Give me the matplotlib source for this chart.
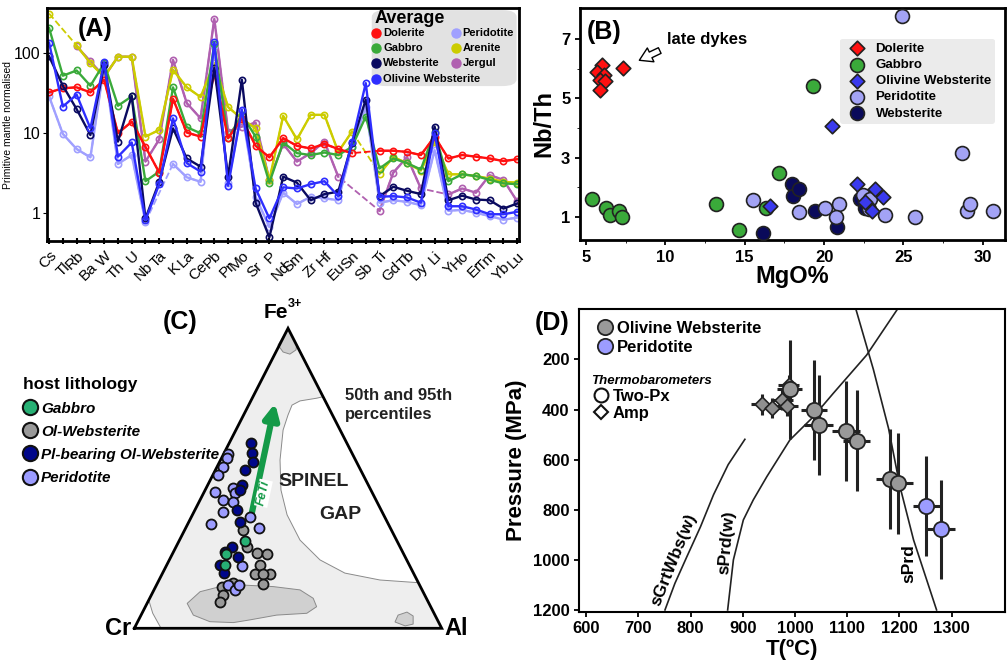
import numpy as np
import matplotlib
matplotlib.use('Agg')
import matplotlib.pyplot as plt
from matplotlib import font_manager
from matplotlib.lines import Line2D
from matplotlib.patches import Polygon, FancyBboxPatch

plt.rcParams['font.family'] = ['Liberation Sans', 'DejaVu Sans']
installed = {f.name for f in font_manager.fontManager.ttflist}
NARROW = 'Liberation Sans Narrow' if 'Liberation Sans Narrow' in installed else 'Liberation Sans'

nan = np.nan

# ---- (A) spider diagram ----
elements = ['Cs', 'Tl', 'Rb', 'Ba', 'W', 'Th', 'U', 'Nb', 'Ta', 'K', 'La', 'Ce', 'Pb', 'Pr', 'Mo',
            'Sr', 'P', 'Nd', 'Sm', 'Zr', 'Hf', 'Eu', 'Sn', 'Sb', 'Ti', 'Gd', 'Tb', 'Dy', 'Li',
            'Y', 'Ho', 'Er', 'Tm', 'Yb', 'Lu']
dolerite = [32, 36, 37, 32, 46, 9.9, 13.8, 6.7, 3.2, 26.6, 10.1, 9.0, 56, 8.6, 15, 6.9, 4.96, 8.6,
            6.9, 6.4, 7.3, 6.3, 5.6, nan, 6.0, 6.0, 5.8, 5.3, 9.0, 4.8, 5.3, 5.06, 4.8, 4.46, 4.7]
gabbro = [203, 51.6, 60, 38.7, 74, 21.8, 28.5, 2.5, 3.3, 37, 11.8, 9.9, 128, 8.6, 16.8, 9.0, 2.4,
          7.6, 5.6, 5.3, 5.7, 5.3, 6.7, 16, 3.6, 4.8, 4.2, 3.5, 10.4, 2.5, 3.05, 2.9, 2.6, 2.35, 2.3]
websterite = [90, 38.7, 19.8, 9.4, 70, 7.8, 29, 0.86, 2.46, 11.4, 4.8, 3.8, 65, 2.85, 46, 1.35, 0.50,
              2.85, 2.4, 1.45, 1.73, 1.85, 7.4, 26, 1.63, 2.13, 1.9, 1.73, 12.0, 1.45, 1.65, 1.48,
              1.45, 1.14, 1.32]
ol_websterite = [133, 21.3, 30, 11.4, 76, 5.06, 7.6, 0.82, 2.3, 15.2, 4.2, 3.3, 135, 2.2, 19.4, 2.03,
                 0.86, 2.1, 2.03, 2.3, 2.5, 1.63, 7.6, 41.7, 1.6, 1.63, 1.57, 1.35, 9.9, 1.22, 1.22,
                 1.11, 0.97, 0.97, 1.04]
peridotite = [28.5, 9.7, 6.3, 4.96, 70, 4.1, 5.3, 0.78, nan, 4.1, 2.8, 2.46, 120, 2.4, 19, 1.6, 0.67,
              1.8, 1.3, 1.6, 1.53, 1.45, 6.7, 21, 1.35, 1.45, 1.38, 1.26, 6.1, 1.07, 1.1, 1.01, 0.92,
              0.83, 0.88]
arenite = [307, nan, 123, 74, 50, 89, 89, 9.0, 10.9, 61, 37, 28, 74, 21, 15, 11.4, 2.6, 16.3, 8.3,
           16.8, 16.8, 5.8, 10.4, nan, 3.1, 5.0, 4.2, 3.4, 7.8, 3.05, 3.05, 2.9, 2.7, 2.46, 2.4]
jergul = [nan, nan, 120, 78, 50, 89, 89, 4.4, 8.3, 81, 23.5, 15.2, 264, 10.4, 12, 13.4, 2.6, 7.3, 4.4,
          5.6, 7.8, 2.85, nan, nan, 1.07, 3.2, 5.0, 2.03, nan, 1.71, 2.03, 1.8, 2.98, 2.6, 1.4]

# ---- (B) Nb/Th vs MgO ----
dol_mgo = [6.0, 5.7, 6.1, 5.9, 6.2, 5.9, 7.3]
dol_nbth = [6.12, 5.9, 5.8, 5.63, 5.6, 5.3, 6.02]
gab_mgo = [5.36, 6.24, 6.5, 7.08, 7.25, 13.2, 14.64, 16.32, 17.18, 19.33]
gab_nbth = [1.59, 1.29, 1.06, 1.20, 0.98, 1.43, 0.55, 1.29, 2.49, 5.42]
olw_mgo = [16.6, 20.48, 22.06, 23.2, 23.74, 23.0, 22.6]
olw_nbth = [1.35, 4.07, 2.10, 1.93, 1.65, 1.20, 1.5]
per_mgo = [24.94, 28.68, 15.55, 18.42, 20.06, 20.95, 20.73, 22.48, 22.9, 23.84, 25.74, 29.0, 29.2,
           30.67, 22.8]
per_nbth = [7.79, 3.14, 1.55, 1.17, 1.29, 1.43, 1.0, 1.73, 1.61, 1.05, 0.99, 1.2, 1.43, 1.2, 1.27]
web_mgo = [17.96, 18.07, 18.4, 19.43, 20.84, 16.18, 22.27, 22.6]
web_nbth = [2.10, 1.71, 1.94, 1.2, 0.64, 0.44, 1.61, 1.3]

# ---- (C) spinel ternary (Al, Fe3+ fractions; Cr = rest) ----
c_gab_al = [0.214, 0.174, 0.190]
c_gab_fe = [0.292, 0.248, 0.211]
c_olw_al = [0.191, 0.231, 0.273, 0.307, 0.303, 0.303, 0.351, 0.330, 0.346, 0.215, 0.234, 0.234, 0.247]
c_olw_fe = [0.328, 0.270, 0.250, 0.247, 0.211, 0.180, 0.180, 0.180, 0.147, 0.139, 0.111, 0.089, 0.150]
c_pl_al = [0.070, 0.092, 0.108, 0.096, 0.111, 0.113, 0.138, 0.166, 0.181, 0.168, 0.219, 0.173, 0.200]
c_pl_fe = [0.617, 0.583, 0.555, 0.528, 0.478, 0.461, 0.394, 0.355, 0.272, 0.253, 0.239, 0.211, 0.183]
c_per_al = [0.015, 0.017, 0.020, 0.018, 0.035, 0.076, 0.089, 0.103, 0.111, 0.095, 0.191, 0.076,
            0.240, 0.246, 0.234, 0.264, 0.269]
c_per_fe = [0.581, 0.567, 0.539, 0.511, 0.455, 0.428, 0.467, 0.450, 0.422, 0.389, 0.370, 0.348,
            0.333, 0.208, 0.144, 0.128, 0.144]

# ---- (D) P-T ----
olw_T = [990, 1037, 1045, 1097, 1118, 1181, 1198]
olw_P = [320, 402, 462, 485, 524, 677, 695]
olw_Terr = [24, 25, 27, 27, 26, 26, 28]
olw_Perr = [196, 200, 198, 200, 200, 200, 200]
per_T = [1251, 1279]
per_P = [785, 878]
per_Terr = [26, 27]
per_Perr = [200, 198]
amp_T = [936, 955, 976, 985, 988]
amp_P = [380, 395, 362, 386, 302]
amp_Terr = [20, 20, 20, 20, 20]
amp_Perr = [40, 40, 40, 40, 40]
sgrt_T = [751, 770, 793, 819, 844, 872, 904]
sgrt_P = [1200, 1094, 987, 868, 740, 620, 519]
sprdw_T = [871, 882, 901, 920, 946, 990, 1035, 1073, 1137, 1195]
sprdw_P = [1200, 1000, 841, 761, 668, 522, 429, 336, 183, 3]
sprd_T = [1117, 1150, 1179, 1201, 1227, 1271]
sprd_P = [3, 240, 475, 708, 921, 1200]

fig = plt.figure(figsize=(10.07, 6.63), dpi=100)

# ================= A =================
axA = fig.add_axes([0.0467, 0.6365, 0.4687, 0.3514])
x = np.arange(len(elements))
series = [('Jergul', jergul, '#b060b0'), ('Arenite', arenite, '#cccc00'),
          ('Peridotite', peridotite, '#a0a0ff'), ('Gabbro', gabbro, '#3aaa3a'),
          ('Dolerite', dolerite, '#ff1010'), ('Websterite', websterite, '#0a0a60'),
          ('Olivine Websterite', ol_websterite, '#2e2eff')]
for name, vals, col in series:
    v = np.array(vals, float)
    ok = ~np.isnan(v)
    if not ok.all():
        axA.plot(x[ok], v[ok], '--', color=col, lw=1.3)
    axA.plot(x, v, '-', color=col, lw=1.7, marker='o', ms=4.5, mfc='none', mew=1.2)
axA.set_yscale('log')
axA.set_ylim(0.45, 360)
axA.set_xlim(-0.15, 34.13)
axA.set_xticks(x)
axA.set_xticklabels(elements, rotation=45, ha='right', rotation_mode='anchor', fontsize=11)
for i, t in enumerate(axA.xaxis.get_major_ticks()):
    t.set_pad(3 if i % 2 == 0 else 11)
axA.tick_params(axis='x', direction='inout', length=5, width=1.5)
axA.set_yticks([1, 10, 100])
axA.set_yticklabels(['1', '10', '100'], fontsize=11.5)
axA.tick_params(axis='y', which='major', length=3, pad=1.5)
axA.tick_params(axis='y', which='minor', length=0)
axA.set_ylabel('Primitive mantle normalised', fontsize=7.5, labelpad=1)
for s in axA.spines.values():
    s.set_linewidth(2)
axA.text(0.066, 0.96, '(A)', transform=axA.transAxes, fontsize=18, fontweight='bold', va='top')

# legend of A, laid out by hand (the long last entry runs under the second column)
cols = {n: c for n, _, c in series}
tA = axA.transAxes
axA.add_patch(FancyBboxPatch((0.688, 0.665), 0.307, 0.326, boxstyle='round,pad=0,rounding_size=0.03',
                             transform=tA, fc='#e2e2e2', ec='none', zorder=6))
axA.text(0.694, 0.957, 'Average', transform=tA, fontsize=13, fontweight='bold', family=NARROW,
         va='center', ha='left', zorder=7)
rows_y = [0.893, 0.828, 0.764, 0.695]
leg_items = [('Dolerite', 0, 0), ('Gabbro', 0, 1), ('Websterite', 0, 2), ('Olivine Websterite', 0, 3),
             ('Peridotite', 1, 0), ('Arenite', 1, 1), ('Jergul', 1, 2)]
col_x = [0.698, 0.866]
for n, c, r in leg_items:
    axA.plot([col_x[c]], [rows_y[r]], 'o', ms=6.5, color=cols[n], transform=tA, zorder=7, clip_on=False)
    axA.text(col_x[c] + 0.014, rows_y[r], n, transform=tA, fontsize=8, fontweight='bold',
             family=NARROW, va='center', ha='left', zorder=7)

# ================= B =================
axB = fig.add_axes([0.576, 0.638, 0.422, 0.35])
axB.scatter(gab_mgo, gab_nbth, marker='o', s=100, c='#3aaa3a', edgecolors='#222', linewidths=1.2, label='Gabbro', zorder=3)
axB.scatter(web_mgo, web_nbth, marker='o', s=100, c='#0a0a5a', edgecolors='#222', linewidths=1.2, label='Websterite', zorder=3)
axB.scatter(per_mgo, per_nbth, marker='o', s=100, c='#a3a3f5', edgecolors='#222', linewidths=1.2, label='Peridotite', zorder=3)
axB.scatter(olw_mgo, olw_nbth, marker='D', s=55, c='#3a3aee', edgecolors='#222', linewidths=1.2, label='Olivine Websterite', zorder=4)
axB.scatter(dol_mgo, dol_nbth, marker='D', s=55, c='#ff1010', edgecolors='#222', linewidths=1.2, label='Dolerite', zorder=4)
axB.set_xlim(4.62, 31.4)
axB.set_ylim(0.21, 8.06)
axB.set_xticks([5, 10, 15, 20, 25, 30])
axB.set_xticks([7.5, 12.5, 17.5, 22.5, 27.5], minor=True)
axB.set_yticks([1, 3, 5, 7])
axB.set_yticks([2, 4, 6], minor=True)
axB.tick_params(labelsize=12, width=1.3)
for lab in axB.get_xticklabels() + axB.get_yticklabels():
    lab.set_fontweight('bold')
axB.set_xlabel('MgO%', fontsize=17, fontweight='bold', labelpad=0)
axB.set_ylabel('Nb/Th', fontsize=17, fontweight='bold', labelpad=4)
for s in axB.spines.values():
    s.set_linewidth(2)
axB.text(0.016, 0.95, '(B)', transform=axB.transAxes, fontsize=18, fontweight='bold', va='top')
axB.annotate('', xy=(8.2, 6.25), xytext=(9.8, 6.66),
             arrowprops=dict(arrowstyle='simple,head_width=1.1,head_length=0.9,tail_width=0.45',
                             fc='white', ec='black', lw=1))
axB.text(10.1, 6.98, 'late dykes', fontsize=12, fontweight='bold', va='center')
hB = axB.get_legend_handles_labels()
idx = [hB[1].index(n) for n in ['Dolerite', 'Gabbro', 'Olivine Websterite', 'Peridotite', 'Websterite']]
axB.legend([hB[0][i] for i in idx], [hB[1][i] for i in idx], loc='upper right',
           bbox_to_anchor=(0.976, 0.868), prop={'weight': 'bold', 'size': 9.5},
           facecolor='#ebebeb', edgecolor='none', framealpha=1, labelspacing=0.3, handletextpad=0.4,
           borderpad=0.3, borderaxespad=0)

# ================= C =================
axC = fig.add_axes([0.0993, 0.0, 0.3774, 0.5324])
axC.set_xlim(-0.1116, 1.1246)
axC.set_ylim(-0.1157, 1.061)
axC.axis('off')


def tern(al, fe):
    al = np.asarray(al, float)
    fe = np.asarray(fe, float)
    return al + fe / 2, fe


tri_x = [0, 1, 0.5, 0]
tri_y = [0, 0, 1, 0]
axC.fill(tri_x, tri_y, color='#eeeeee', zorder=0)
gap = [(0.614, 0.772), (0.593, 0.767), (0.539, 0.758), (0.513, 0.744), (0.500, 0.711), (0.484, 0.661),
       (0.474, 0.561), (0.477, 0.461), (0.497, 0.378), (0.539, 0.294), (0.604, 0.228), (0.685, 0.184),
       (0.799, 0.161), (0.924, 0.152)]
axC.add_patch(Polygon(gap, closed=True, fc='white', ec='#8a8a8a', lw=0.7, zorder=1))
crcut = [(0, 0), (0.047, 0.094), (0.06, 0.05), (0.087, 0.0)]
axC.add_patch(Polygon(crcut, closed=True, fc='white', ec='#8a8a8a', lw=0.7, zorder=1))
cap = [(0.5, 1.0), (0.4675, 0.944), (0.484, 0.921), (0.506, 0.914), (0.526, 0.928), (0.528, 0.944)]
axC.add_patch(Polygon(cap, closed=True, fc='#d0d0d0', ec='#8a8a8a', lw=0.7, zorder=1))
blob = [(0.172, 0.083), (0.214, 0.122), (0.279, 0.139), (0.355, 0.144), (0.452, 0.139), (0.539, 0.128),
        (0.582, 0.100), (0.593, 0.072), (0.561, 0.050), (0.463, 0.044), (0.376, 0.028), (0.322, 0.019),
        (0.246, 0.022), (0.192, 0.044)]
axC.add_patch(Polygon(blob, closed=True, fc='#d0d0d0', ec='#8a8a8a', lw=0.7, zorder=1))
blob2 = [(0.848, 0.021), (0.858, 0.044), (0.887, 0.054), (0.907, 0.041), (0.907, 0.014), (0.881, 0.008)]
axC.add_patch(Polygon(blob2, closed=True, fc='#d0d0d0', ec='#8a8a8a', lw=0.7, zorder=1))
axC.plot(tri_x, tri_y, color='black', lw=2, zorder=2, solid_joinstyle='miter')

axC.annotate('', xy=(0.458, 0.75), xytext=(0.382, 0.383),
             arrowprops=dict(arrowstyle='-|>,head_width=0.45,head_length=0.9', lw=4.5,
                             color='#149a48', shrinkA=0, shrinkB=0), zorder=3)
axC.text(0.42, 0.45, 'FeTi', rotation=78, color='#149a48', fontsize=9, fontweight='bold',
         style='italic', ha='center', va='center', zorder=4,
         bbox=dict(fc='white', ec='none', pad=0.5))

sty = dict(s=52, edgecolors='#111', linewidths=1.3, zorder=5)
px, py = tern(c_olw_al, c_olw_fe)
axC.scatter(px, py, c='#999999', **sty)
px, py = tern(c_per_al, c_per_fe)
axC.scatter(px, py, c='#9c9cff', **sty)
px, py = tern(c_pl_al, c_pl_fe)
axC.scatter(px, py, c='#00078a', **sty)
px, py = tern(c_gab_al, c_gab_fe)
axC.scatter(px, py, c='#27b074', **sty)

axC.text(0.5, 1.02, 'Fe', ha='right', va='bottom', fontsize=15, fontweight='bold')
axC.text(0.5, 1.06, '3+', ha='left', va='bottom', fontsize=9, fontweight='bold')
axC.text(-0.01, 0.0, 'Cr', ha='right', va='center', fontsize=17, fontweight='bold')
axC.text(1.01, 0.0, 'Al', ha='left', va='center', fontsize=17, fontweight='bold')
axC.text(0.149, 1.02, '(C)', ha='center', va='center', fontsize=18, fontweight='bold')
axC.text(0.685, 0.80, '50th and 95th\npercentiles', ha='left', va='top', fontsize=12,
         fontweight='bold', color='#222', linespacing=1.3)
axC.text(0.582, 0.488, 'SPINEL', ha='center', va='center', fontsize=14, fontweight='bold', color='#222')
axC.text(0.669, 0.378, 'GAP', ha='center', va='center', fontsize=14, fontweight='bold', color='#222')

hC = [Line2D([], [], ls='', marker='o', ms=11, mfc=c, mec='#111', mew=1.5, label=n)
      for n, c in [('Gabbro', '#27b074'), ('Ol-Websterite', '#999999'),
                   ('Pl-bearing Ol-Websterite', '#00078a'), ('Peridotite', '#9c9cff')]]
legC = axC.legend(handles=hC, loc='upper left', bbox_to_anchor=(0.012, 0.447),
                  bbox_transform=fig.transFigure, frameon=False, title='host lithology',
                  prop={'weight': 'bold', 'style': 'italic', 'size': 11}, alignment='left',
                  handletextpad=0.2, labelspacing=0.6, handlelength=1.0, borderpad=0.2)
legC.get_title().set_fontsize(12.5)
legC.get_title().set_fontweight('bold')

# ================= D =================
axD = fig.add_axes([0.5753, 0.0774, 0.4227, 0.4561])
axD.plot(sgrt_T, sgrt_P, color='#222', lw=1.2)
axD.plot(sprdw_T, sprdw_P, color='#222', lw=1.2)
axD.plot(sprd_T, sprd_P, color='#222', lw=1.2)
eb = dict(fmt='none', ecolor='#222', elinewidth=2.2, capsize=0, zorder=3)
axD.errorbar(amp_T, amp_P, xerr=amp_Terr, yerr=amp_Perr, **eb)
axD.errorbar(olw_T, olw_P, xerr=olw_Terr, yerr=olw_Perr, **eb)
axD.errorbar(per_T, per_P, xerr=per_Terr, yerr=per_Perr, **eb)
axD.scatter(amp_T, amp_P, marker='D', s=55, c='#8f8f8f', edgecolors='#222', linewidths=1.2, zorder=4)
axD.scatter(olw_T, olw_P, marker='o', s=120, c='#999999', edgecolors='#222', linewidths=1.3, zorder=5)
axD.scatter(per_T, per_P, marker='o', s=120, c='#9c9cff', edgecolors='#222', linewidths=1.3, zorder=5)
axD.set_xlim(587, 1402)
axD.set_ylim(1207, 0)
axD.set_xticks(range(600, 1301, 100))
axD.set_yticks(range(200, 1201, 200))
axD.tick_params(labelsize=12, width=1.3)
for lab in axD.get_xticklabels() + axD.get_yticklabels():
    lab.set_fontweight('bold')
axD.set_xlabel('T(ºC)', fontsize=16, fontweight='bold', labelpad=2)
axD.set_ylabel('Pressure (MPa)', fontsize=16, fontweight='bold', labelpad=4)
for s in axD.spines.values():
    s.set_linewidth(1.5)
axD.text(767, 1000, 'sGrtWbs(w)', rotation=68, ha='center', va='center', fontsize=12.5, fontweight='bold')
axD.text(869, 931, 'sPrd(w)', rotation=85, ha='center', va='center', fontsize=12.5, fontweight='bold')
axD.text(1217, 1014, 'sPrd', rotation=90, ha='center', va='center', fontsize=12.5, fontweight='bold')
fig.text(0.531, 1 - 323 / 663, '(D)', fontsize=18, fontweight='bold', ha='left', va='center')

hD1 = [Line2D([], [], ls='', marker='o', ms=11, mfc='#999999', mec='#222', mew=1.3, label='Olivine Websterite'),
       Line2D([], [], ls='', marker='o', ms=11, mfc='#9c9cff', mec='#222', mew=1.3, label='Peridotite')]
leg1 = axD.legend(handles=hD1, loc='upper left', bbox_to_anchor=(0.01, 1.0), frameon=False,
                  prop={'weight': 'bold', 'size': 12}, handletextpad=0.1, labelspacing=0.25,
                  handlelength=1.2, borderpad=0.2)
axD.add_artist(leg1)
hD2 = [Line2D([], [], ls='', marker='o', ms=10, mfc='white', mec='#111', mew=1.5, label='Two-Px'),
       Line2D([], [], ls='', marker='D', ms=7, mfc='white', mec='#111', mew=1.5, label='Amp')]
leg2 = axD.legend(handles=hD2, loc='upper left', bbox_to_anchor=(0.0, 0.82), frameon=False,
                  title='Thermobarometers', prop={'weight': 'bold', 'size': 12}, alignment='left',
                  handletextpad=0.1, labelspacing=0.1, handlelength=1.2, borderpad=0.2)
leg2.get_title().set_fontsize(9.5)
leg2.get_title().set_fontstyle('italic')
leg2.get_title().set_fontweight('bold')

fig.savefig('out.png', dpi=100)
